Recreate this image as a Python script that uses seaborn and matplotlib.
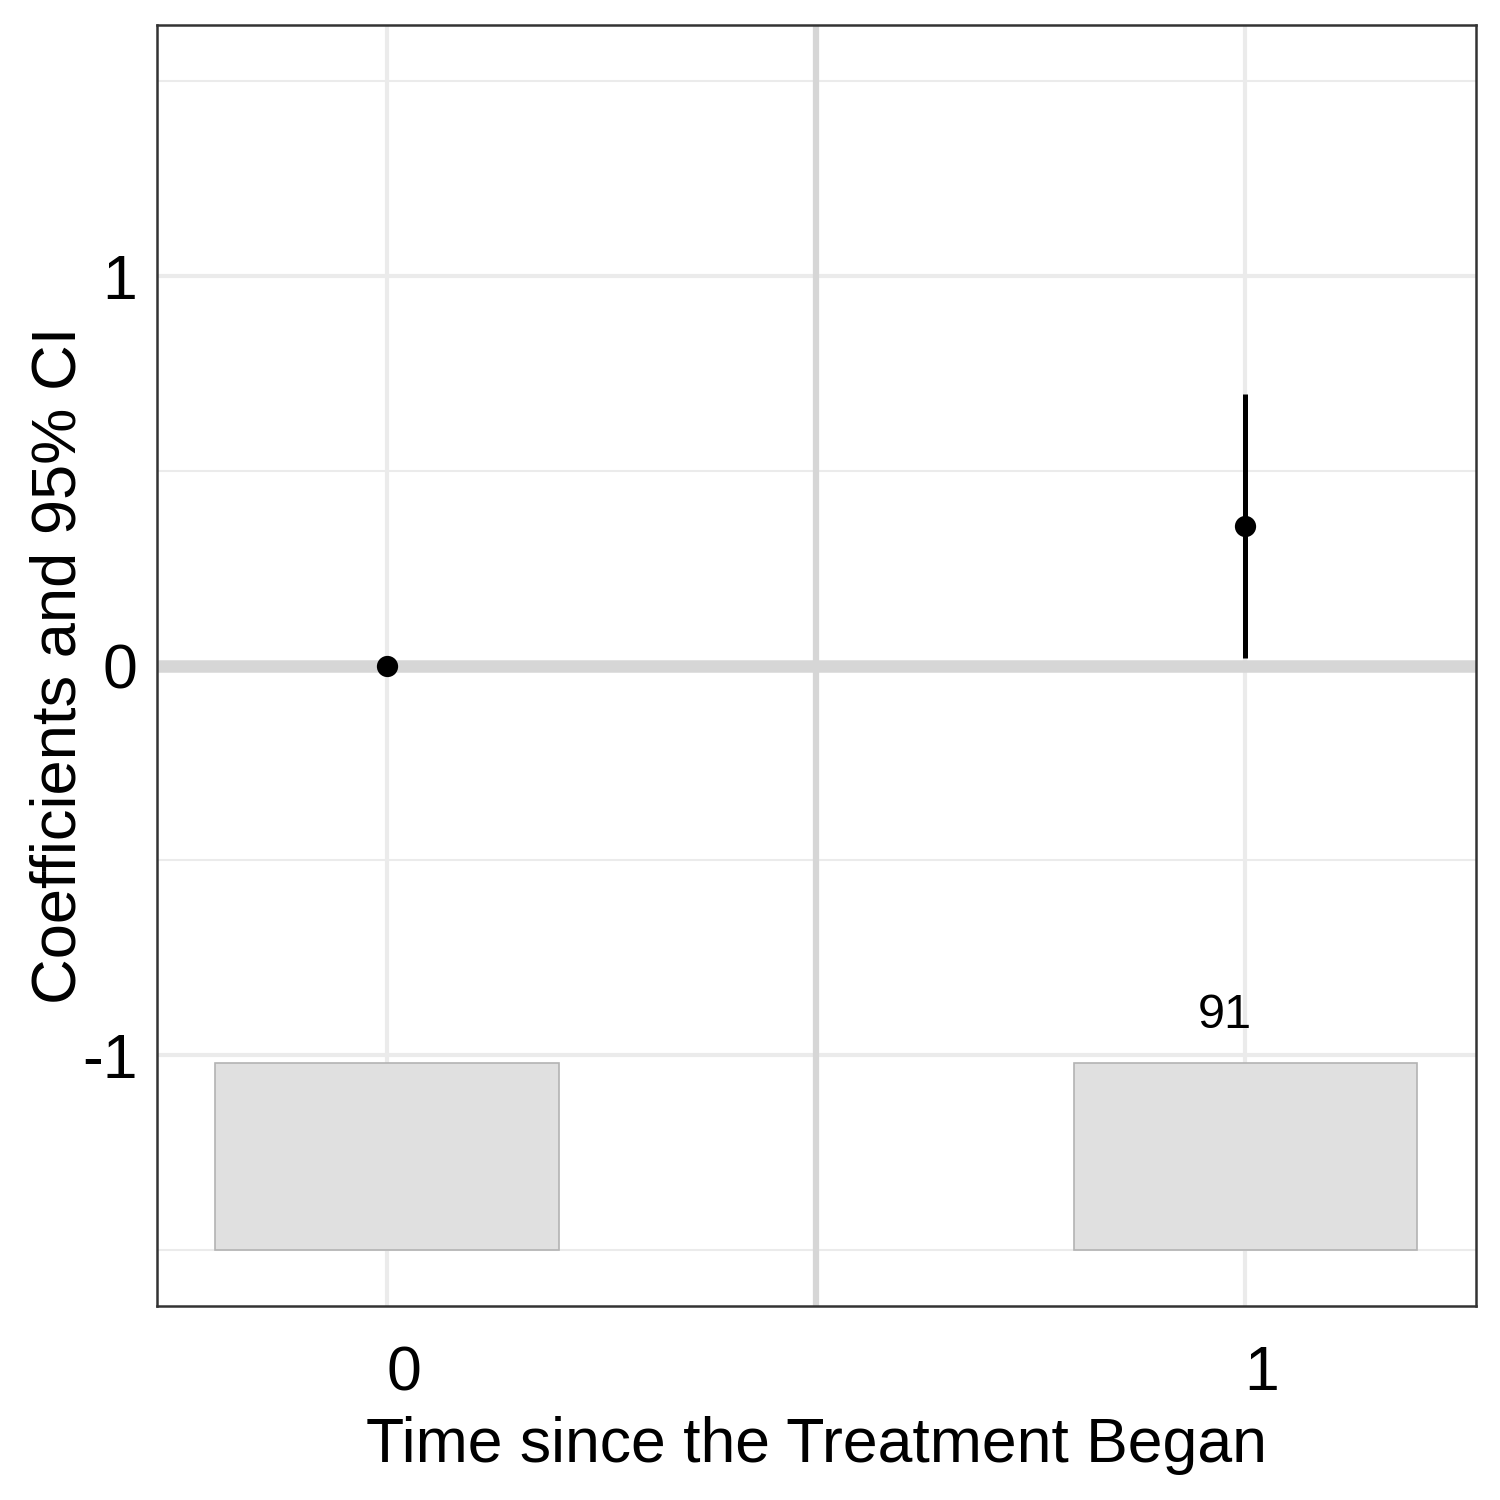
import numpy as np
import pandas as pd
import matplotlib
matplotlib.use("Agg")
import matplotlib.pyplot as plt
import matplotlib.transforms as mtransforms
import seaborn as sns

# Data
periods = [0, 1]
coefs = [0.0, 0.359]
ci_low = [np.nan, 0.02]
ci_high = [np.nan, 0.698]
bar_bottom = [-1.5, -1.5]
bar_top = [-1.02, -1.02]
bar_labels = ["", "91"]

df = pd.DataFrame({"period": periods, "coef": coefs})

sns.set_style("white")
plt.rcParams["font.family"] = ["Liberation Sans", "DejaVu Sans"]
plt.rcParams["axes.unicode_minus"] = False

fig = plt.figure(figsize=(5, 5), dpi=300)
ax = fig.add_axes([0.1047, 0.1293, 0.984 - 0.1047, 0.9833 - 0.1293])

# grid lines
for v in [-1.5, -0.5, 0.5, 1.5]:
    ax.axhline(v, color="#ebebeb", lw=0.5, zorder=0)
for v in [-1, 0, 1]:
    ax.axhline(v, color="#ebebeb", lw=1.0, zorder=0)
for v in [0, 1]:
    ax.axvline(v, color="#ebebeb", lw=1.0, zorder=0)

# reference lines
ax.axhline(0, color="#d6d6d6", lw=3.0, zorder=1)
ax.axvline(0.5, color="#d6d6d6", lw=1.5, zorder=1)

# count bars
heights = np.array(bar_top) - np.array(bar_bottom)
ax.bar(periods, heights, bottom=bar_bottom, width=0.4, color="#e0e0e0",
       edgecolor="#b3b3b3", linewidth=0.4, zorder=2)
for x, top, lab in zip(periods, bar_top, bar_labels):
    if lab:
        ax.text(x + 0.008, top + 0.065, lab, ha="right", va="bottom",
                fontsize=11.7, color="black", zorder=5)

# confidence intervals and points
ax.vlines(periods, ci_low, ci_high, color="black", lw=1.2, zorder=3)
sns.scatterplot(data=df, x="period", y="coef", color="black", s=26,
                edgecolor="black", linewidth=0, zorder=4, ax=ax, legend=False)

ax.set_xlim(-0.268, 1.269)
ax.set_ylim(-1.644, 1.644)
ax.set_xticks([0, 1])
ax.set_xticklabels(["0", "1"])
ax.set_yticks([-1, 0, 1])
ax.set_yticklabels(["-1", "0", "1"])
ax.tick_params(axis="both", labelsize=15, colors="#333333", length=2.2,
               width=0.6, labelcolor="black")
ax.tick_params(axis="y", pad=2.5)
ax.tick_params(axis="x", pad=7)
shift = mtransforms.ScaledTranslation(4 / 72, 0, fig.dpi_scale_trans)
for lbl in ax.get_xticklabels():
    lbl.set_transform(lbl.get_transform() + shift)
for sp in ax.spines.values():
    sp.set_color("#333333")
    sp.set_linewidth(0.6)
    sp.set_visible(True)

ax.set_xlabel("Time since the Treatment Began", fontsize=15, labelpad=3,
              color="black")
ax.set_ylabel("Coefficients and 95% CI", fontsize=15.2, labelpad=-1.5,
              color="black")

fig.savefig("out.png", dpi=300)
